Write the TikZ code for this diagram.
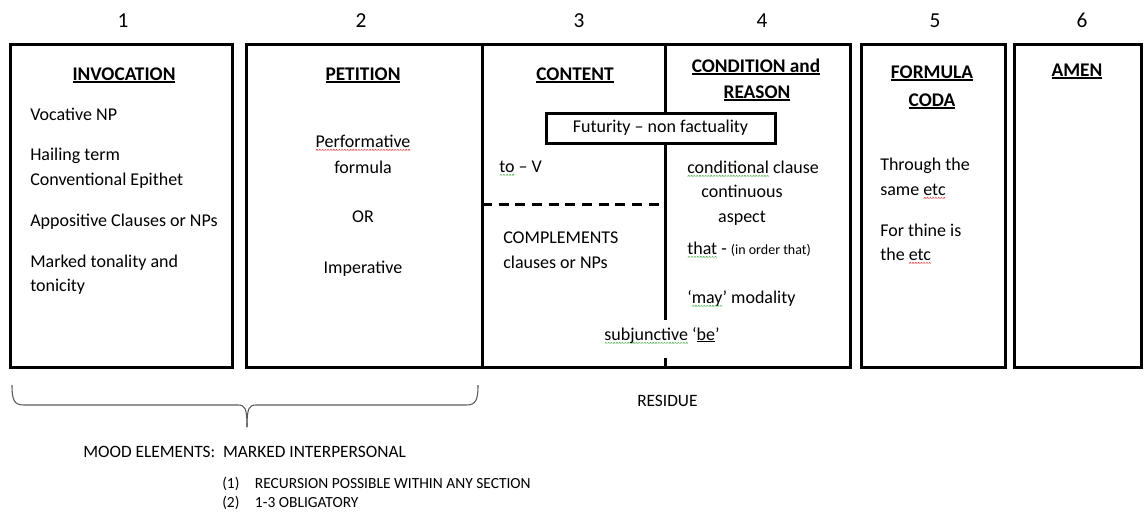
\documentclass[tikz,border=0pt]{standalone}
\usepackage{fontspec}
\setmainfont{Carlito}
\usetikzlibrary{positioning}

\definecolor{squigred}{RGB}{225,60,60}
\definecolor{squiggreen}{RGB}{80,175,80}
\definecolor{bracegray}{RGB}{90,90,90}

% spell-check style wavy mark under a word
\newcommand\squig[2]{\setbox0\hbox{#2}\rlap{\raisebox{-2.8pt}{\hbox to \wd0{\xleaders\hbox{\tikz[x=1pt,y=1pt]\draw[#1,line width=0.45pt] (0,0)--(0.8,0.8)--(1.6,0);}\hfil}}}\box0\relax}
% underlined heading
\newcommand\heading[1]{\setbox0\hbox{#1}\rlap{\rule[-2pt]{\wd0}{1.1pt}}\box0\relax}
\newcommand\ulword[1]{\setbox0\hbox{#1}\rlap{\rule[-1.8pt]{\wd0}{0.7pt}}\box0\relax}

\tikzset{
  box/.style={draw, line width=2.25pt},
  txt/.style={inner sep=0pt, font=\fontsize{13.5}{16}\selectfont},
  lefttxt/.style={txt, anchor=base west},
  midtxt/.style={txt, anchor=base},
  head/.style={midtxt, font=\fontsize{14.5}{17}\selectfont\bfseries},
  num/.style={midtxt, font=\fontsize{16}{19}\selectfont},
  note/.style={inner sep=0pt, anchor=base west, font=\fontsize{13}{15}\selectfont},
  smallnote/.style={note, font=\fontsize{11.6}{13}\selectfont},
  brace/.style={draw=bracegray, line width=0.8pt},
}

\begin{document}
\begin{tikzpicture}[x=0.75pt,y=-0.75pt]

    \useasboundingbox (0,0) rectangle (1144,511);

    % column numbers
    \node[num] (n1) at (123,27) {1};
    \node[num] (n2) at (361,27) {2};
    \node[num] (n3) at (579,27) {3};
    \node[num] (n4) at (762,27) {4};
    \node[num] (n5) at (935,27) {5};
    \node[num] (n6) at (1082,27) {6};

    % frames
    \draw[box] (10,44) rectangle (232,367);
    \draw[box] (246,44) rectangle (850,367);
    \draw[box] (861,44) rectangle (1005,367);
    \draw[box] (1014,44) rectangle (1141,367);
    \draw[box] (482,44) -- (482,367);
    \draw[box, dash pattern=on 7.5pt off 5pt] (482,204) -- (663,204);

    \node[draw, line width=2.25pt, inner sep=0pt, minimum width=171.75pt, minimum height=22.5pt,
          font=\fontsize{13.5}{16}\selectfont] (fut) at (660.5,128) {Futurity -- non factuality};

    \coordinate (divtop) at (665,44);
    \coordinate (divgap) at (665,320);
    \coordinate (divend) at (665,358);
    \coordinate (divbot) at (665,367);
    \draw[box] (divtop) -- (divtop |- fut.north);
    \draw[box] (divtop |- fut.south) -- (divgap);
    \draw[box] (divend) -- (divbot);

    % 1
    \node[head] (invoc) at (124,80) {\heading{INVOCATION}};
    \node[lefttxt] (vocnp) at (30,120) {Vocative NP};
    \node[lefttxt] (hail) at (30,160) {Hailing term};
    \node[lefttxt] (epithet) at (30,185) {Conventional Epithet};
    \node[lefttxt] (appos) at (30,226) {Appositive Clauses or NPs};
    \node[lefttxt] (marked) at (30,267) {Marked tonality and};
    \node[lefttxt] (tonic) at (30,291) {tonicity};

    % 2
    \node[head] (petit) at (363,80) {\heading{PETITION}};
    \node[midtxt] (perf) at (363,147) {\squig{squigred}{Performative}};
    \node[midtxt] (formula) at (363,173) {formula};
    \node[midtxt] (orword) at (363,222) {OR};
    \node[midtxt] (imper) at (363,273) {Imperative};

    % 3
    \node[head] (content) at (575,80) {\heading{CONTENT}};
    \node[lefttxt] (tov) at (499,172) {\squig{squiggreen}{to} -- V};
    \node[lefttxt] (compl) at (503,243) {COMPLEMENTS};
    \node[lefttxt] (clauses) at (503,268) {clauses or NPs};

    % 4
    \node[head] (cond) at (756,72) {\heading{CONDITION and}};
    \node[head] (reason) at (757,98) {\heading{REASON}};
    \node[lefttxt] (condcl) at (687,173) {\squig{squiggreen}{conditional} clause};
    \node[midtxt] (contin) at (742,197) {continuous};
    \node[midtxt] (aspect) at (742,222) {aspect};
    \node[lefttxt] (that) at (687,254) {\squig{squiggreen}{that} - {\fontsize{10.5}{12}\selectfont (in order that)}};
    \node[lefttxt] (may) at (687,303) {‘\squig{squiggreen}{may}’ modality};
    \node[midtxt] (subj) at (662,340) {\squig{squiggreen}{subjunctive} ‘\ulword{be}’};

    % 5
    \node[head] (formcoda) at (932,78) {\heading{FORMULA}};
    \node[head] (coda) at (932,106) {\heading{CODA}};
    \node[lefttxt] (through) at (880,170) {Through the};
    \node[lefttxt] (same) at (880,195) {same \squig{squigred}{etc}};
    \node[lefttxt] (thine) at (880,236) {For thine is};
    \node[lefttxt] (theetc) at (880,260) {the \squig{squigred}{etc}};

    % 6
    \node[head] (amen) at (1077,76) {\heading{AMEN}};

    % brace and notes
    \coordinate (braceL) at (12,385);
    \coordinate (braceR) at (478,385);
    \coordinate (braceTip) at (247,427);
    \draw[brace] (braceL) .. controls (12,400) and (14,405) .. (24,405) -- (238,405)
        .. controls (245,405) and (247,408) .. (braceTip);
    \draw[brace] (braceR) .. controls (478,400) and (476,405) .. (466,405) -- (256,405)
        .. controls (249,405) and (247,408) .. (braceTip);

    \node[note] (residue) at (637,406) {RESIDUE};
    \node[note] (mood) at (83,457) {MOOD ELEMENTS:\ \ MARKED INTERPERSONAL};
    \node[smallnote] (recur) at (222,488) {(1)\quad RECURSION POSSIBLE WITHIN ANY SECTION};
    \node[smallnote] (oblig) at (222,507) {(2)\quad 1-3 OBLIGATORY};

\end{tikzpicture}
\end{document}
